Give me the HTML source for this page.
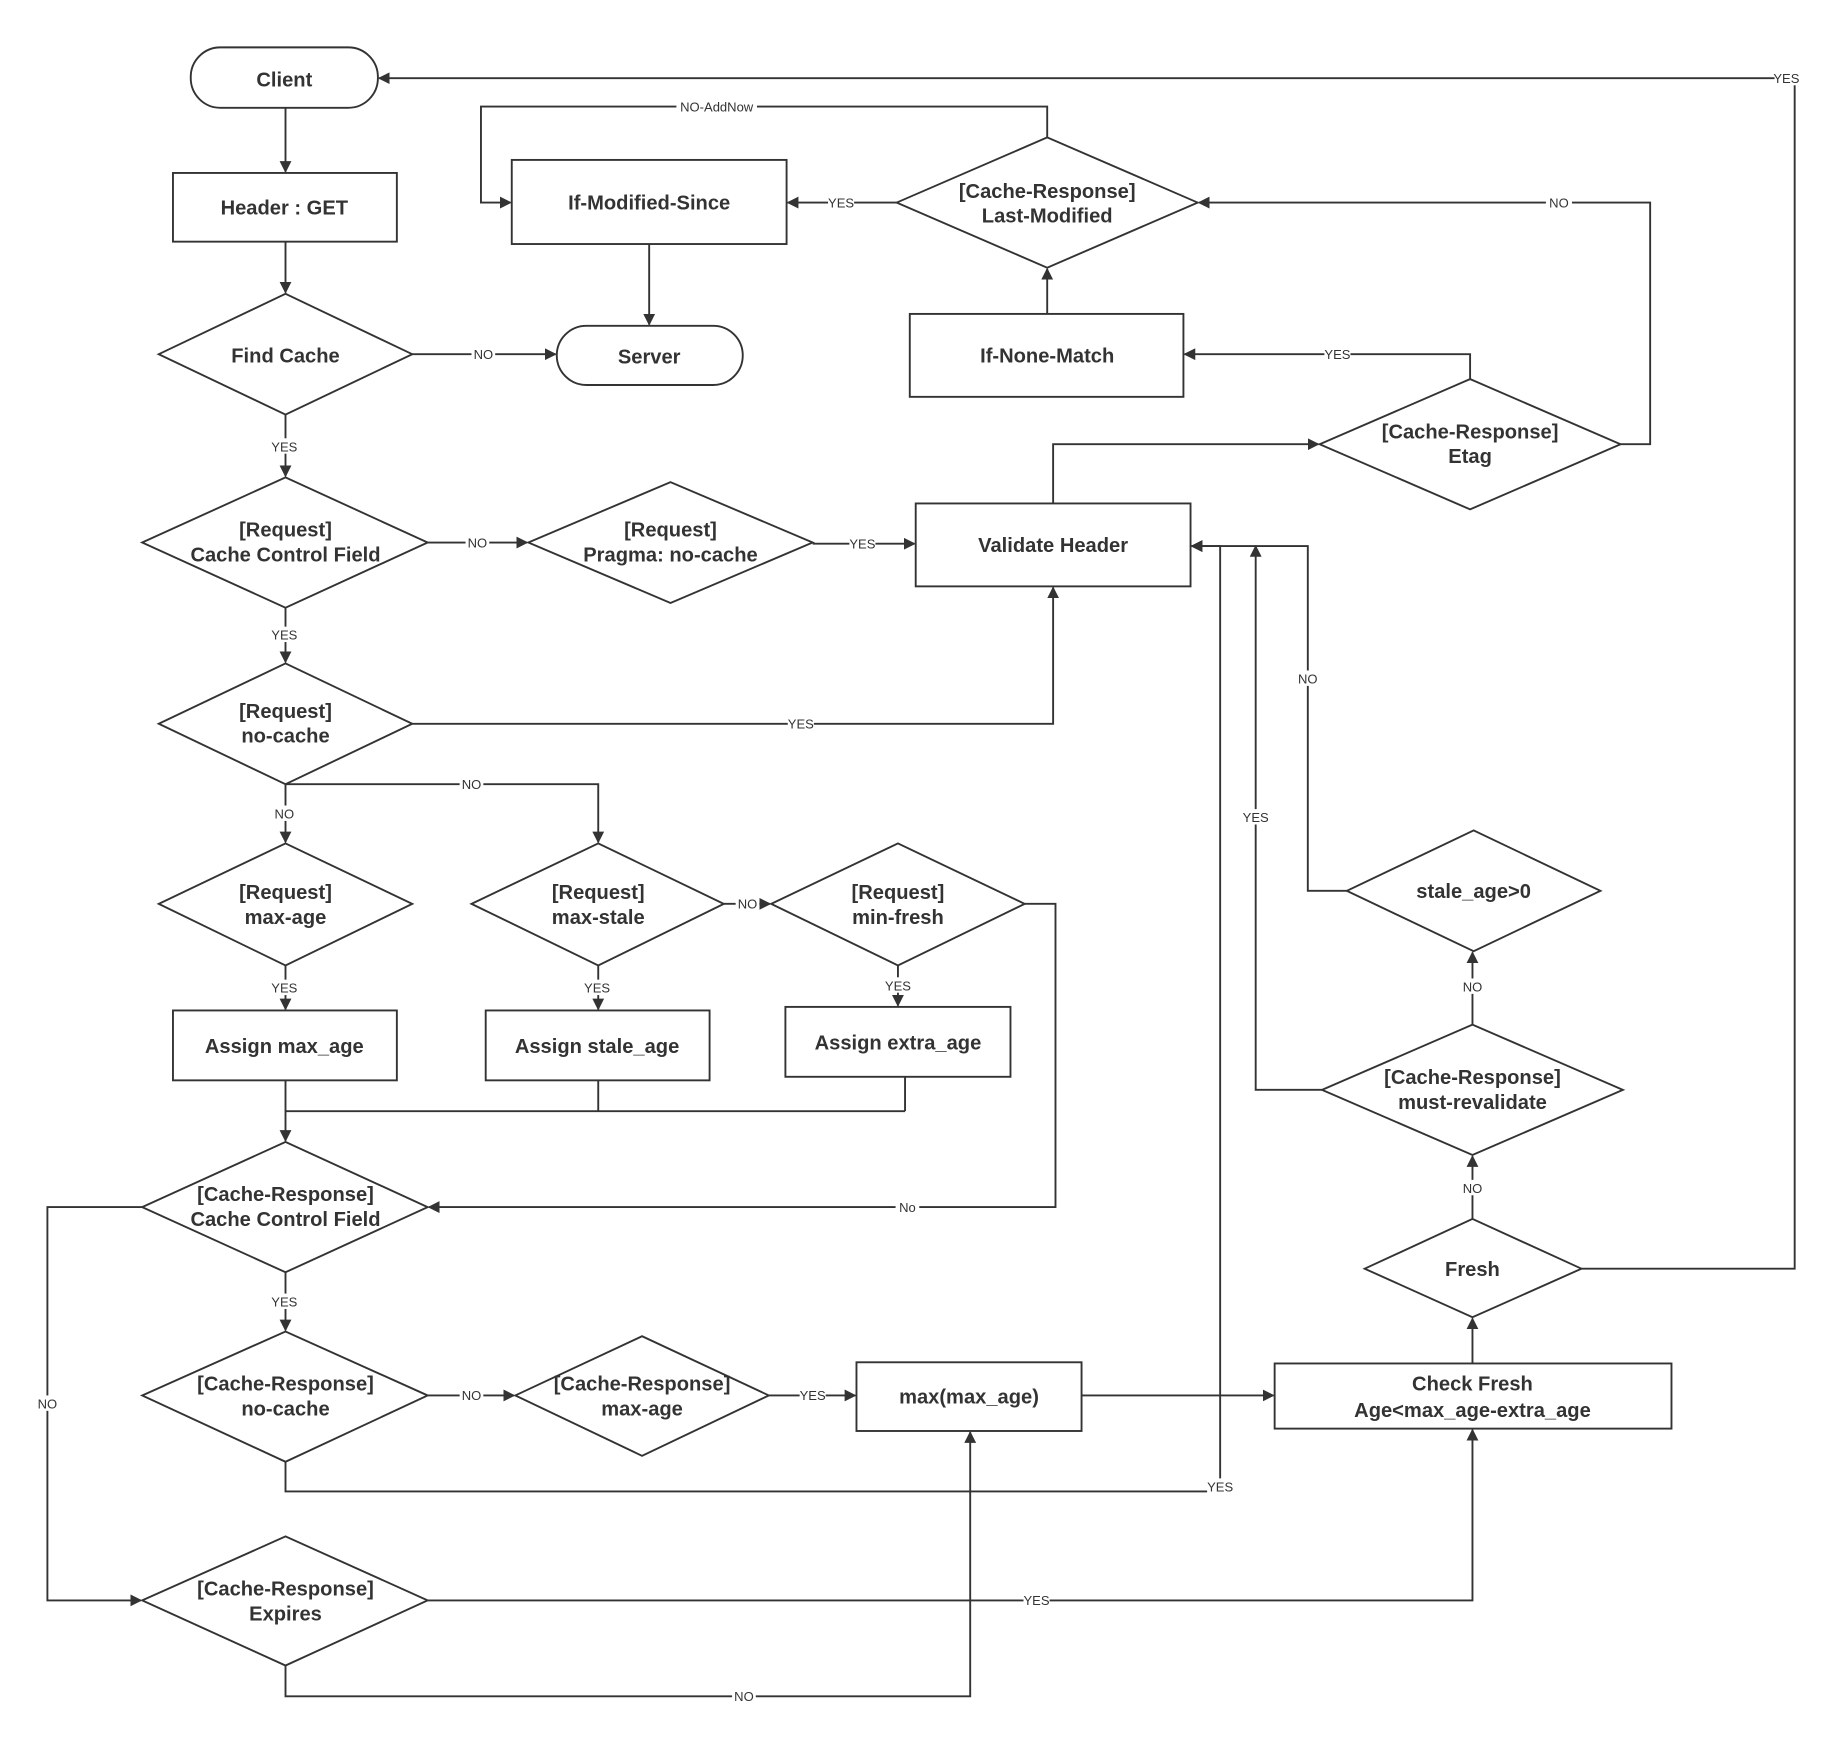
<!DOCTYPE html>
<html><head><meta charset="utf-8"><style>
html,body{margin:0;padding:0;background:#fff;}
svg{display:block;}
.s{fill:#fff;stroke:#333;stroke-width:1.6;}
.l{fill:none;stroke:#333;stroke-width:1.6;}
.t{font-family:"Liberation Sans",sans-serif;font-weight:bold;font-size:17px;fill:#333;text-anchor:middle;}
.lb{font-family:"Liberation Sans",sans-serif;font-size:11px;fill:#333;text-anchor:middle;}
.bg{fill:#fff;}
</style></head><body>
<svg width="1848" height="1750" viewBox="0 0 1560 1477.3" xmlns="http://www.w3.org/2000/svg">
<defs><marker id="a" markerWidth="10" markerHeight="10" refX="9" refY="5" orient="auto" markerUnits="userSpaceOnUse"><path d="M0,0 L10,5 L0,10 z" fill="#333"/></marker></defs>
<g class="l" marker-end="url(#a)">
<path d="M241,91V145"/>
<path d="M241,204V247"/>
<path d="M348,299H469"/>
<path d="M241,350V402"/>
<path d="M548,206V274"/>
<path d="M757,171H665"/>
<path d="M884,116V90H406V171H431"/>
<path d="M884,265V227"/>
<path d="M1241,320V299H1000"/>
<path d="M1368,375H1393V171H1012"/>
<path d="M889,425V375H1113"/>
<path d="M361,458H445"/>
<path d="M686,459H772"/>
<path d="M241,513V559"/>
<path d="M348,611H889V496"/>
<path d="M241,662V711"/>
<path d="M241,662H505V711"/>
<path d="M241,815V852"/>
<path d="M505,815V852"/>
<path d="M611,763H650"/>
<path d="M758,815V849"/>
<path d="M865,763H891V1019H362"/>
<path d="M241,912V963"/>
<path d="M120,1019H40V1351H119"/>
<path d="M241,1074V1123"/>
<path d="M361,1178H434"/>
<path d="M649,1178H722"/>
<path d="M913,1178H1075"/>
<path d="M241,1234V1259H1030V461H1006"/>
<path d="M361,1351H1243V1207"/>
<path d="M241,1406V1432H819V1209"/>
<path d="M1243,1151V1113"/>
<path d="M1243,1029V976"/>
<path d="M1335,1071H1515V66H320"/>
<path d="M1243,865V804"/>
<path d="M1116,920H1060V461"/>
<path d="M1137,752H1104V461H1006"/>
</g>
<path class="l" d="M505,912V938M764,909V938M241,938H764"/>
<g class="s">
<rect x="161" y="40" width="158" height="51" rx="25"/>
<rect x="146" y="146" width="189" height="58"/>
<polygon points="134,299 241,248 348,299 241,350"/>
<rect x="470" y="275" width="157" height="50" rx="25"/>
<rect x="432" y="135" width="232" height="71"/>
<polygon points="757,171 884,116 1011,171 884,226"/>
<rect x="768" y="265" width="231" height="70"/>
<polygon points="1114,375 1241,320 1368,375 1241,430"/>
<polygon points="120,458 241,403 361,458 241,513"/>
<polygon points="446,458 566,407 686,458 566,509"/>
<rect x="773" y="425" width="232" height="70"/>
<polygon points="134,611 241,560 348,611 241,662"/>
<polygon points="134,763 241,712 348,763 241,815"/>
<polygon points="398,763 505,712 611,763 505,815"/>
<polygon points="651,763 758,712 865,763 758,815"/>
<rect x="146" y="853" width="189" height="59"/>
<rect x="410" y="853" width="189" height="59"/>
<rect x="663" y="850" width="190" height="59"/>
<polygon points="120,1019 241,964 361,1019 241,1074"/>
<polygon points="1116,920 1243,865 1370,920 1243,975"/>
<polygon points="1137,752 1244,701 1351,752 1244,803"/>
<polygon points="1152,1071 1243,1029 1335,1071 1243,1112"/>
<polygon points="120,1178 241,1124 361,1178 241,1234"/>
<polygon points="435,1178 542,1128 649,1178 542,1229"/>
<rect x="723" y="1150" width="190" height="58"/>
<rect x="1076" y="1151" width="335" height="55"/>
<polygon points="120,1351 241,1297 361,1351 241,1406"/>
</g>
<g class="t">
<text x="240" y="73">Client</text>
<text x="240" y="181">Header : GET</text>
<text x="241" y="306">Find Cache</text>
<text x="548" y="307">Server</text>
<text x="548" y="177">If-Modified-Since</text>
<text x="884" y="167">[Cache-Response]</text><text x="884" y="188">Last-Modified</text>
<text x="884" y="306">If-None-Match</text>
<text x="1241" y="370">[Cache-Response]</text><text x="1241" y="391">Etag</text>
<text x="241" y="453">[Request]</text><text x="241" y="474">Cache Control Field</text>
<text x="566" y="453">[Request]</text><text x="566" y="474">Pragma: no-cache</text>
<text x="889" y="466">Validate Header</text>
<text x="241" y="606">[Request]</text><text x="241" y="627">no-cache</text>
<text x="241" y="759">[Request]</text><text x="241" y="780">max-age</text>
<text x="505" y="759">[Request]</text><text x="505" y="780">max-stale</text>
<text x="758" y="759">[Request]</text><text x="758" y="780">min-fresh</text>
<text x="240" y="889">Assign max_age</text>
<text x="504" y="889">Assign stale_age</text>
<text x="758" y="886">Assign extra_age</text>
<text x="241" y="1014">[Cache-Response]</text><text x="241" y="1035">Cache Control Field</text>
<text x="1243" y="915">[Cache-Response]</text><text x="1243" y="936">must-revalidate</text>
<text x="1244" y="758">stale_age&gt;0</text>
<text x="1243" y="1077">Fresh</text>
<text x="241" y="1174">[Cache-Response]</text><text x="241" y="1195">no-cache</text>
<text x="542" y="1174">[Cache-Response]</text><text x="542" y="1195">max-age</text>
<text x="818" y="1185">max(max_age)</text>
<text x="1243" y="1174">Check Fresh</text><text x="1243" y="1196">Age&lt;max_age-extra_age</text>
<text x="241" y="1347">[Cache-Response]</text><text x="241" y="1368">Expires</text>
</g>
<g>
<rect class="bg" x="1498" y="59" width="21" height="13"/>
<rect class="bg" x="571" y="83" width="68" height="13"/>
<rect class="bg" x="699" y="164" width="22" height="13"/>
<rect class="bg" x="398" y="292" width="20" height="13"/>
<rect class="bg" x="1118" y="292" width="22" height="13"/>
<rect class="bg" x="1305" y="164" width="22" height="13"/>
<rect class="bg" x="229" y="370" width="23" height="13"/>
<rect class="bg" x="393" y="451" width="20" height="13"/>
<rect class="bg" x="717" y="452" width="22" height="13"/>
<rect class="bg" x="229" y="529" width="23" height="13"/>
<rect class="bg" x="665" y="604" width="22" height="13"/>
<rect class="bg" x="230" y="680" width="20" height="13"/>
<rect class="bg" x="388" y="655" width="20" height="13"/>
<rect class="bg" x="229" y="827" width="23" height="13"/>
<rect class="bg" x="493" y="827" width="23" height="13"/>
<rect class="bg" x="621" y="756" width="20" height="13"/>
<rect class="bg" x="747" y="825" width="23" height="13"/>
<rect class="bg" x="756" y="1012" width="20" height="13"/>
<rect class="bg" x="30" y="1178" width="20" height="13"/>
<rect class="bg" x="229" y="1092" width="23" height="13"/>
<rect class="bg" x="388" y="1171" width="20" height="13"/>
<rect class="bg" x="675" y="1171" width="22" height="13"/>
<rect class="bg" x="1019" y="1248" width="22" height="13"/>
<rect class="bg" x="864" y="1344" width="22" height="13"/>
<rect class="bg" x="618" y="1425" width="20" height="13"/>
<rect class="bg" x="1233" y="996" width="20" height="13"/>
<rect class="bg" x="1233" y="826" width="20" height="13"/>
<rect class="bg" x="1049" y="683" width="22" height="13"/>
<rect class="bg" x="1094" y="566" width="20" height="13"/>
</g>
<g class="lb">
<text x="1508" y="70">YES</text>
<text x="605" y="94">NO-AddNow</text>
<text x="710" y="175">YES</text>
<text x="408" y="303">NO</text>
<text x="1129" y="303">YES</text>
<text x="1316" y="175">NO</text>
<text x="240" y="381">YES</text>
<text x="403" y="462">NO</text>
<text x="728" y="463">YES</text>
<text x="240" y="540">YES</text>
<text x="676" y="615">YES</text>
<text x="240" y="691">NO</text>
<text x="398" y="666">NO</text>
<text x="240" y="838">YES</text>
<text x="504" y="838">YES</text>
<text x="631" y="767">NO</text>
<text x="758" y="836">YES</text>
<text x="766" y="1023">No</text>
<text x="40" y="1189">NO</text>
<text x="240" y="1103">YES</text>
<text x="398" y="1182">NO</text>
<text x="686" y="1182">YES</text>
<text x="1030" y="1259">YES</text>
<text x="875" y="1355">YES</text>
<text x="628" y="1436">NO</text>
<text x="1243" y="1007">NO</text>
<text x="1243" y="837">NO</text>
<text x="1060" y="694">YES</text>
<text x="1104" y="577">NO</text>
</g>
</svg>
</body></html>
